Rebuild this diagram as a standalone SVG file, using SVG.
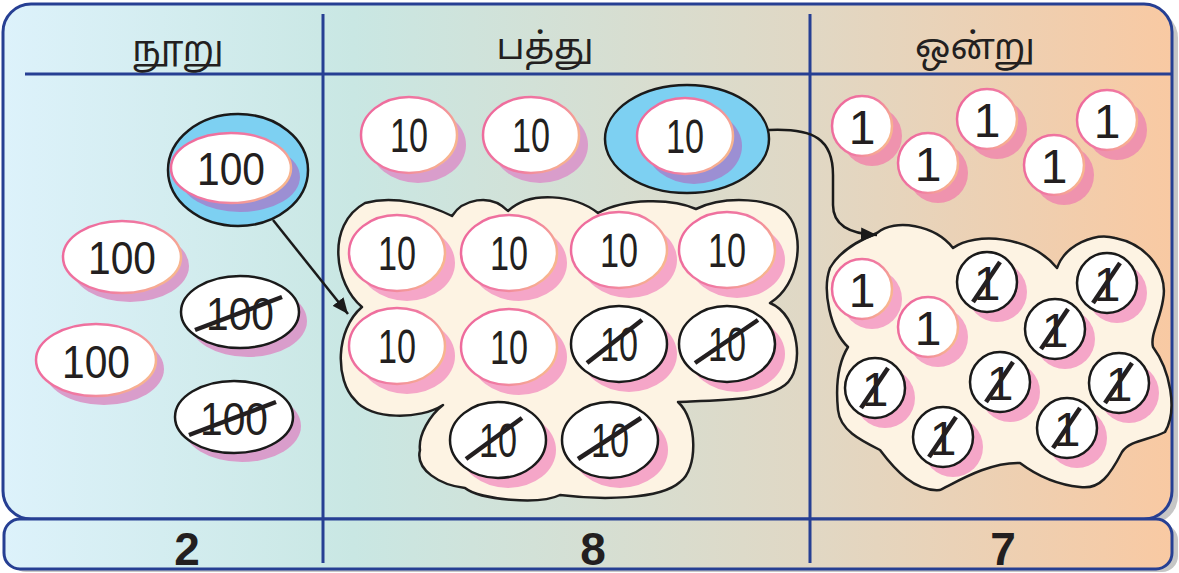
<svg xmlns="http://www.w3.org/2000/svg" width="1179" height="573" viewBox="0 0 1179 573">
<defs>
  <linearGradient id="bg" gradientUnits="userSpaceOnUse" x1="0" y1="0" x2="1179" y2="0">
    <stop offset="0" stop-color="#ddf2fb"/>
    <stop offset="0.3" stop-color="#c9e7e3"/>
    <stop offset="0.68" stop-color="#e0d8c5"/>
    <stop offset="1" stop-color="#f9c9a2"/>
  </linearGradient>
  <linearGradient id="pinkStroke" x1="0" y1="0.3" x2="1" y2="0.7">
    <stop offset="0" stop-color="#ee6a9c"/>
    <stop offset="0.55" stop-color="#f07aa2"/>
    <stop offset="1" stop-color="#f8bb8c"/>
  </linearGradient>
  <marker id="arrow" markerUnits="userSpaceOnUse" markerWidth="18" markerHeight="14" refX="16" refY="7" orient="auto">
    <path d="M0,0 L16,7 L0,14 Z" fill="#1a1a1a"/>
  </marker>
</defs>
<style>
  .frame{fill:url(#bg);stroke:#263f93;stroke-width:3}
  .shadowframe{fill:#c6c6c6}
  .div{stroke:#263f93;stroke-width:3;fill:none}
  .blob{fill:#fdf3e3;stroke:#1f1f1f;stroke-width:2.5;stroke-linejoin:round}
  .hl{fill:#7dd0f2;stroke:#1a1a1a;stroke-width:2.5}
  .coin{fill:#fff;stroke:url(#pinkStroke);stroke-width:2.5}
  .xcoin{fill:#fff;stroke:#1a1a1a;stroke-width:2.5}
  .sh-mauve{fill:#d99dcb}
  .sh-pink{fill:#f5a6c8}
  .sh-rose{fill:#ef93ae}
  .sh-violet{fill:#9c8fd3}
  .num{font-family:"Liberation Sans",Arial,sans-serif;fill:#231f20;text-anchor:middle}
  .n100{font-size:46px}
  .n10{font-size:48px}
  .n1{font-size:48px}
  .strike{stroke:#231f20;stroke-width:4.5;fill:none}
  .head{font-family:"Noto Sans Tamil","Lohit Tamil","Noto Sans",sans-serif;font-size:36px;fill:#231f20;text-anchor:middle}
  .total{font-family:"Liberation Sans",Arial,sans-serif;font-size:46px;font-weight:bold;fill:#231f20;text-anchor:middle}
  .conn{stroke:#1a1a1a;stroke-width:2.5;fill:none}
</style>

<!-- frame -->
<g id="frame">
  <rect class="shadowframe" x="9" y="10" width="1169" height="514" rx="28"/>
  <rect class="shadowframe" x="10" y="524" width="1168" height="48" rx="16"/>
  <rect class="frame" x="3" y="4" width="1169" height="515" rx="28"/>
  <rect class="frame" x="4" y="519" width="1168" height="50" rx="16"/>
  <line class="div" x1="25" y1="74" x2="1171" y2="74"/>
  <line class="div" x1="323" y1="14" x2="323" y2="563"/>
  <line class="div" x1="810" y1="14" x2="810" y2="563"/>
</g>

<!-- headers -->
<g id="headers">
  <text class="head" x="178" y="61">நூறு</text>
  <text class="head" x="545" y="59">பத்து</text>
  <text class="head" x="975" y="59">ஒன்று</text>
</g>

<!-- totals -->
<g id="totals">
  <text class="total" x="187" y="565">2</text>
  <text class="total" x="593" y="565">8</text>
  <text class="total" x="1003" y="565">7</text>
</g>

<!-- blobs -->
<g id="blob-tens">
  <path class="blob" d="M362,307 C335,285 325,225 365,203 C395,195 430,205 452,216 C462,200 490,192 508,211 C530,190 575,195 598,213 C625,198 672,198 696,209 C725,195 775,198 788,215 C805,235 800,285 770,303 C800,315 805,370 785,385 C765,400 730,400 678,402 C698,420 698,470 680,482 C660,500 600,500 560,495 C540,505 480,500 465,488 C440,485 415,470 420,450 C418,435 430,415 443,405 C420,420 370,420 355,400 C335,380 335,330 362,307 Z"/>
</g>
<g id="blob-ones">
  <path class="blob" d="M877,233 C895,218 935,225 953,248 C975,232 1030,235 1057,268 C1065,245 1095,232 1115,238 C1150,245 1168,275 1163,300 C1160,320 1150,335 1153,347 C1170,370 1178,410 1165,432 C1150,440 1130,440 1122,452 C1110,475 1100,490 1080,487 C1060,485 1040,478 1020,463 C990,462 960,480 940,490 C915,492 895,470 880,450 C860,440 840,430 838,410 C835,380 840,360 848,347 C830,330 822,290 830,268 C840,250 860,240 877,233 Z"/>
</g>

<!-- highlight ellipses -->
<g id="hl-100"><ellipse class="hl" cx="238" cy="170" rx="70" ry="56"/></g>
<g id="hl-10"><ellipse class="hl" cx="687" cy="139" rx="82" ry="54"/></g>

<!-- hundreds -->
<g id="h1"><ellipse class="sh-violet" cx="240" cy="177" rx="60" ry="35"/><ellipse class="coin" cx="231" cy="168" rx="60" ry="35"/><text class="num n100" x="231" y="185" textLength="68" lengthAdjust="spacingAndGlyphs">100</text></g>
<g id="h2"><ellipse class="sh-mauve" cx="130" cy="266" rx="59" ry="36"/><ellipse class="coin" cx="122" cy="257" rx="59" ry="36"/><text class="num n100" x="122" y="274" textLength="68" lengthAdjust="spacingAndGlyphs">100</text></g>
<g id="h3"><ellipse class="sh-mauve" cx="104" cy="369" rx="60" ry="36"/><ellipse class="coin" cx="96" cy="360" rx="60" ry="36"/><text class="num n100" x="96" y="378" textLength="68" lengthAdjust="spacingAndGlyphs">100</text></g>
<g id="h4"><ellipse class="sh-mauve" cx="248" cy="321" rx="59" ry="36"/><ellipse class="xcoin" cx="240" cy="312" rx="59" ry="36"/><text class="num n100" x="240" y="330" textLength="68" lengthAdjust="spacingAndGlyphs">100</text><line class="strike" x1="195" y1="330" x2="282" y2="297"/></g>
<g id="h5"><ellipse class="sh-mauve" cx="242" cy="426" rx="59" ry="36"/><ellipse class="xcoin" cx="234" cy="417" rx="59" ry="36"/><text class="num n100" x="234" y="435" textLength="68" lengthAdjust="spacingAndGlyphs">100</text><line class="strike" x1="189" y1="435" x2="276" y2="402"/></g>

<!-- tens top -->
<g id="t1"><ellipse class="sh-mauve" cx="418" cy="145" rx="48" ry="38"/><ellipse class="coin" cx="409" cy="135" rx="48" ry="38"/><text class="num n10" x="409" y="152" textLength="38" lengthAdjust="spacingAndGlyphs">10</text></g>
<g id="t2"><ellipse class="sh-mauve" cx="540" cy="145" rx="48" ry="38"/><ellipse class="coin" cx="531" cy="135" rx="48" ry="38"/><text class="num n10" x="531" y="152" textLength="38" lengthAdjust="spacingAndGlyphs">10</text></g>
<g id="t3"><ellipse class="sh-violet" cx="694" cy="146" rx="48" ry="38"/><ellipse class="coin" cx="685" cy="136" rx="48" ry="38"/><text class="num n10" x="685" y="153" textLength="38" lengthAdjust="spacingAndGlyphs">10</text></g>

<!-- tens in blob -->
<g id="t4"><ellipse class="sh-pink" cx="407" cy="263" rx="48" ry="38"/><ellipse class="coin" cx="397" cy="253" rx="48" ry="38"/><text class="num n10" x="397" y="270" textLength="38" lengthAdjust="spacingAndGlyphs">10</text></g>
<g id="t5"><ellipse class="sh-pink" cx="519" cy="263" rx="48" ry="38"/><ellipse class="coin" cx="509" cy="253" rx="48" ry="38"/><text class="num n10" x="509" y="270" textLength="38" lengthAdjust="spacingAndGlyphs">10</text></g>
<g id="t6"><ellipse class="sh-pink" cx="629" cy="260" rx="48" ry="38"/><ellipse class="coin" cx="619" cy="250" rx="48" ry="38"/><text class="num n10" x="619" y="267" textLength="38" lengthAdjust="spacingAndGlyphs">10</text></g>
<g id="t7"><ellipse class="sh-pink" cx="737" cy="260" rx="48" ry="38"/><ellipse class="coin" cx="727" cy="250" rx="48" ry="38"/><text class="num n10" x="727" y="267" textLength="38" lengthAdjust="spacingAndGlyphs">10</text></g>
<g id="t8"><ellipse class="sh-pink" cx="407" cy="356" rx="48" ry="38"/><ellipse class="coin" cx="397" cy="346" rx="48" ry="38"/><text class="num n10" x="397" y="363" textLength="38" lengthAdjust="spacingAndGlyphs">10</text></g>
<g id="t9"><ellipse class="sh-pink" cx="519" cy="357" rx="48" ry="38"/><ellipse class="coin" cx="509" cy="347" rx="48" ry="38"/><text class="num n10" x="509" y="364" textLength="38" lengthAdjust="spacingAndGlyphs">10</text></g>
<g id="t10"><ellipse class="sh-pink" cx="629" cy="354" rx="48" ry="38"/><ellipse class="xcoin" cx="619" cy="344" rx="48" ry="38"/><text class="num n10" x="619" y="361" textLength="38" lengthAdjust="spacingAndGlyphs">10</text><line class="strike" x1="587" y1="363" x2="642" y2="320"/></g>
<g id="t11"><ellipse class="sh-pink" cx="737" cy="354" rx="48" ry="38"/><ellipse class="xcoin" cx="727" cy="344" rx="48" ry="38"/><text class="num n10" x="727" y="361" textLength="38" lengthAdjust="spacingAndGlyphs">10</text><line class="strike" x1="695" y1="363" x2="758" y2="320"/></g>
<g id="t12"><ellipse class="sh-pink" cx="508" cy="450" rx="48" ry="38"/><ellipse class="xcoin" cx="498" cy="440" rx="48" ry="38"/><text class="num n10" x="498" y="457" textLength="38" lengthAdjust="spacingAndGlyphs">10</text><line class="strike" x1="466" y1="459" x2="522" y2="418"/></g>
<g id="t13"><ellipse class="sh-pink" cx="620" cy="450" rx="48" ry="38"/><ellipse class="xcoin" cx="610" cy="440" rx="48" ry="38"/><text class="num n10" x="610" y="457" textLength="38" lengthAdjust="spacingAndGlyphs">10</text><line class="strike" x1="578" y1="459" x2="641" y2="418"/></g>

<!-- ones top -->
<g id="o1"><circle class="sh-rose" cx="872" cy="136" r="30"/><circle class="coin" cx="862" cy="126" r="30"/><text class="num n1" x="862" y="144">1</text></g>
<g id="o2"><circle class="sh-rose" cx="938" cy="173" r="30"/><circle class="coin" cx="928" cy="163" r="30"/><text class="num n1" x="928" y="181">1</text></g>
<g id="o3"><circle class="sh-rose" cx="997" cy="129" r="30"/><circle class="coin" cx="987" cy="119" r="30"/><text class="num n1" x="987" y="137">1</text></g>
<g id="o4"><circle class="sh-rose" cx="1064" cy="175" r="30"/><circle class="coin" cx="1054" cy="165" r="30"/><text class="num n1" x="1054" y="183">1</text></g>
<g id="o5"><circle class="sh-rose" cx="1117" cy="130" r="30"/><circle class="coin" cx="1107" cy="120" r="30"/><text class="num n1" x="1107" y="138">1</text></g>

<!-- ones in blob -->
<g id="o6"><circle class="sh-pink" cx="872" cy="299" r="30"/><circle class="coin" cx="862" cy="289" r="30"/><text class="num n1" x="862" y="307">1</text></g>
<g id="o7"><circle class="sh-pink" cx="938" cy="337" r="30"/><circle class="coin" cx="928" cy="327" r="30"/><text class="num n1" x="928" y="345">1</text></g>
<g id="o8"><circle class="sh-pink" cx="997" cy="292" r="30"/><circle class="xcoin" cx="987" cy="282" r="30"/><text class="num n1" x="987" y="300">1</text><line class="strike" x1="973" y1="302" x2="1000" y2="262"/></g>
<g id="o9"><circle class="sh-pink" cx="1117" cy="293" r="30"/><circle class="xcoin" cx="1107" cy="283" r="30"/><text class="num n1" x="1107" y="301">1</text><line class="strike" x1="1093" y1="303" x2="1120" y2="263"/></g>
<g id="o10"><circle class="sh-pink" cx="1065" cy="339" r="30"/><circle class="xcoin" cx="1055" cy="329" r="30"/><text class="num n1" x="1055" y="347">1</text><line class="strike" x1="1041" y1="349" x2="1068" y2="309"/></g>
<g id="o11"><circle class="sh-pink" cx="885" cy="398" r="30"/><circle class="xcoin" cx="875" cy="388" r="30"/><text class="num n1" x="875" y="406">1</text><line class="strike" x1="861" y1="408" x2="888" y2="368"/></g>
<g id="o12"><circle class="sh-pink" cx="1010" cy="392" r="30"/><circle class="xcoin" cx="1000" cy="382" r="30"/><text class="num n1" x="1000" y="400">1</text><line class="strike" x1="986" y1="402" x2="1013" y2="362"/></g>
<g id="o13"><circle class="sh-pink" cx="1129" cy="393" r="30"/><circle class="xcoin" cx="1119" cy="383" r="30"/><text class="num n1" x="1119" y="401">1</text><line class="strike" x1="1105" y1="403" x2="1132" y2="363"/></g>
<g id="o14"><circle class="sh-pink" cx="953" cy="447" r="30"/><circle class="xcoin" cx="943" cy="437" r="30"/><text class="num n1" x="943" y="455">1</text><line class="strike" x1="929" y1="457" x2="956" y2="417"/></g>
<g id="o15"><circle class="sh-pink" cx="1077" cy="438" r="30"/><circle class="xcoin" cx="1067" cy="428" r="30"/><text class="num n1" x="1067" y="446">1</text><line class="strike" x1="1053" y1="448" x2="1080" y2="408"/></g>

<!-- connectors -->
<g id="connectors">
  <path class="conn" d="M273,220 L348,314" marker-end="url(#arrow)"/>
  <path class="conn" d="M769,130 C815,128 833,140 833,175 L833,205 C833,225 850,234 877,235" marker-end="url(#arrow)"/>
</g>
</svg>
